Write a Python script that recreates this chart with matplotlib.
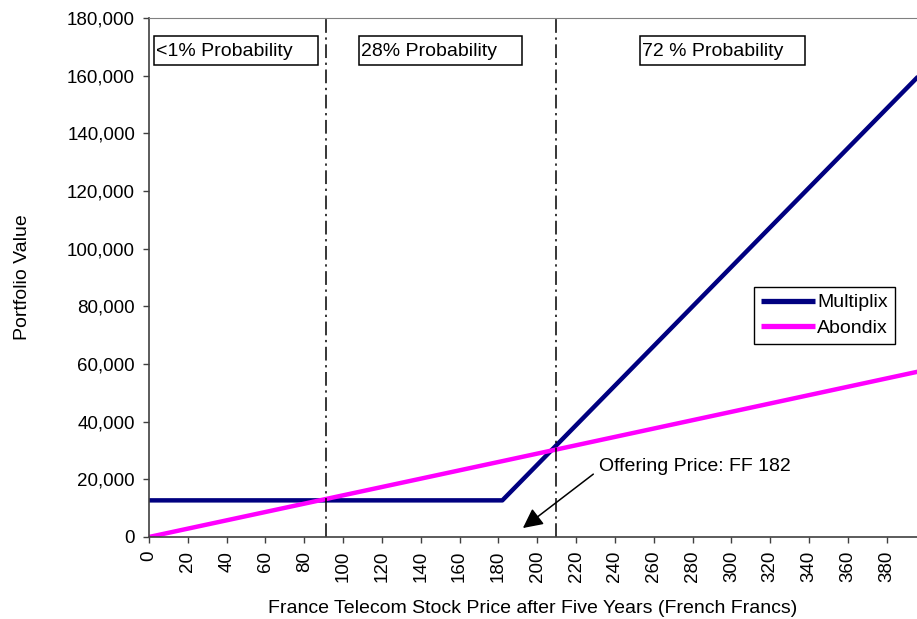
import numpy as np
import matplotlib
matplotlib.use("Agg")
import matplotlib.pyplot as plt
from matplotlib.patches import Rectangle
from matplotlib.ticker import FuncFormatter

plt.rcParams["font.family"] = ["Liberation Sans", "DejaVu Sans"]

# payoff lines (stock price in FF -> portfolio value)
price = [0, 182, 400]
multiplix = [12700, 12700, 162300]
abondix = [0, 26300, 57900]

# probability zones
zone_edges = [91, 209.5]
zone_labels = ["<1% Probability", "28% Probability", "72 % Probability"]
zone_box_x = [(2.6, 87), (108, 192), (253, 338)]

x_ticks = list(range(0, 400, 20))
y_ticks = list(range(0, 180001, 20000))

fig = plt.figure(figsize=(9.17, 6.19), dpi=100)
ax = fig.add_axes([0.1625, 0.1325, 0.8375, 0.8385])

ax.plot(price, multiplix, color="#000080", lw=3.2, label="Multiplix", solid_capstyle="butt")
ax.plot(price, abondix, color="#FF00FF", lw=3.2, label="Abondix", solid_capstyle="butt")

for xe in zone_edges:
    ax.axvline(xe, color="black", lw=1.1, ls=(0, (9, 3, 1.5, 3)))

# zone label boxes
y0, y1 = 163700, 173900
for (bx0, bx1), lab in zip(zone_box_x, zone_labels):
    ax.add_patch(Rectangle((bx0, y0), bx1 - bx0, y1 - y0, fill=True, facecolor="white",
                           edgecolor="black", lw=1.1, zorder=4))
    ax.text(bx0 + 1.0, (y0 + y1) / 2 - 300, lab, fontsize=14, va="center", ha="left", zorder=5)

ax.annotate("Offering Price: FF 182", xy=(192.6, 3100), xytext=(232, 24300),
            fontsize=14, va="center", ha="left",
            arrowprops=dict(arrowstyle="-|>", color="black", lw=1.1, mutation_scale=30,
                            shrinkA=3, shrinkB=0, relpos=(0, 0.35)))

ax.set_xlim(0, 395.6)
ax.set_ylim(0, 180000)
ax.set_xticks(x_ticks)
ax.set_xticklabels([str(v) for v in x_ticks], rotation=90)
ax.set_yticks(y_ticks)
ax.yaxis.set_major_formatter(FuncFormatter(lambda v, p: f"{int(v):,}"))
ax.tick_params(axis="both", labelsize=13.5, length=4, width=1, color="#404040", pad=6)

ax.spines["right"].set_visible(False)
ax.spines["top"].set_color("#808080")
for s in ["left", "bottom"]:
    ax.spines[s].set_color("#404040")
    ax.spines[s].set_linewidth(1.2)

ax.set_xlabel("France Telecom Stock Price after Five Years (French Francs)", fontsize=14, labelpad=13)
ax.set_ylabel("Portfolio Value", fontsize=14, labelpad=26)

leg = ax.legend(loc="upper left", bbox_to_anchor=(754 / 917, 1 - 287 / 619),
                bbox_transform=fig.transFigure, fontsize=14, frameon=True, fancybox=False,
                edgecolor="black", framealpha=1, handlelength=2.8, handletextpad=0.1,
                borderpad=0.35, labelspacing=0.4, borderaxespad=0)
leg.get_frame().set_linewidth(1.0)
for ln in leg.get_lines():
    ln.set_linewidth(3.8)

fig.savefig("out.png", dpi=100)
